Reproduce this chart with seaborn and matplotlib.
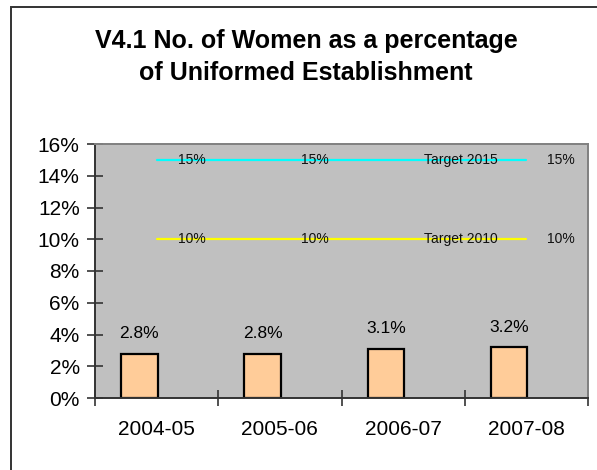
"""Women as a percentage of the uniformed establishment, with 2010/2015 targets."""

import matplotlib
matplotlib.use("Agg")
import matplotlib.pyplot as plt
from matplotlib.patches import Rectangle
from matplotlib.ticker import FixedLocator, PercentFormatter
import numpy as np
import pandas as pd
import seaborn as sns

years = ["2004-05", "2005-06", "2006-07", "2007-08"]
women_pct = [2.8, 2.8, 3.1, 3.2]
women_labels = ["2.8%", "2.8%", "3.1%", "3.2%"]
target_2015 = [15, 15, 15, 15]
target_2015_labels = ["15%", "15%", "Target 2015", "15%"]
target_2010 = [10, 10, 10, 10]
target_2010_labels = ["10%", "10%", "Target 2010", "10%"]

sns.set_style("white")
plt.rcParams["font.family"] = ["Liberation Sans", "DejaVu Sans"]
plt.rcParams["text.color"] = "black"
plt.rcParams["xtick.labelcolor"] = "black"
plt.rcParams["ytick.labelcolor"] = "black"

pos = np.arange(len(years))
bars = pd.DataFrame({"pos": pos - 0.14, "pct": women_pct})
lines = pd.DataFrame({"pos": pos, "t2015": target_2015, "t2010": target_2010})

fig = plt.figure(figsize=(5.97, 4.70), dpi=100)
ax = fig.add_axes([95 / 597, 1 - 398 / 470, 493 / 597, 254 / 470])
ax.set_facecolor("#C0C0C0")

sns.barplot(data=bars, x="pos", y="pct", native_scale=True, width=0.295,
            color="#FFCC99", edgecolor="black", linewidth=1.6, saturation=1,
            ax=ax)
sns.lineplot(data=lines, x="pos", y="t2015", color="#00FFFF", linewidth=1.6, ax=ax)
sns.lineplot(data=lines, x="pos", y="t2010", color="#FFFF00", linewidth=1.6, ax=ax)

for x, v, lab in zip(bars["pos"], women_pct, women_labels):
    ax.annotate(lab, (x, v), xytext=(0, 20), textcoords="offset pixels",
                ha="center", va="center", fontsize=12.5)
for vals, labs in [(target_2015, target_2015_labels), (target_2010, target_2010_labels)]:
    for x, v, lab in zip(pos, vals, labs):
        ax.annotate(lab, (x, v), xytext=(21, 0), textcoords="offset pixels",
                    ha="left", va="center", fontsize=10, color="#111111")

ax.set_xlim(-0.5, 3.5)
ax.set_ylim(0, 16)
ax.yaxis.set_major_locator(FixedLocator(np.arange(0, 17, 2)))
ax.yaxis.set_major_formatter(PercentFormatter(decimals=0))
ax.xaxis.set_major_locator(FixedLocator(np.arange(-0.5, 3.6, 1)))
ax.xaxis.set_minor_locator(FixedLocator(pos))
ax.set_xticklabels([], minor=False)
ax.set_xticklabels(years, minor=True)
ax.tick_params(axis="y", which="major", direction="inout", length=12, width=1.2,
               color="#333333", labelsize=15, pad=5, left=True)
ax.tick_params(axis="x", which="major", direction="inout", length=12, width=1.2,
               color="#333333", bottom=True)
ax.tick_params(axis="x", which="minor", length=0, labelsize=15, pad=16)
ax.set_xlabel("")
ax.set_ylabel("")

for side in ["left", "bottom"]:
    ax.spines[side].set_color("#333333")
    ax.spines[side].set_linewidth(1.4)
for side in ["top", "right"]:
    ax.spines[side].set_color("#808080")
    ax.spines[side].set_linewidth(1.4)

fig.text(306 / 597, 1 - 57 / 470,
         "V4.1 No. of Women as a percentage\nof Uniformed Establishment",
         ha="center", va="center", fontsize=18, fontweight="bold",
         linespacing=1.45)

fig.patches.append(Rectangle((11 / 597, -0.05), 1.1, 1 - 7 / 470 + 0.05,
                             transform=fig.transFigure, fill=False,
                             edgecolor="#333333", linewidth=1.4))

fig.savefig("out.png", dpi=100)
plt.close(fig)
